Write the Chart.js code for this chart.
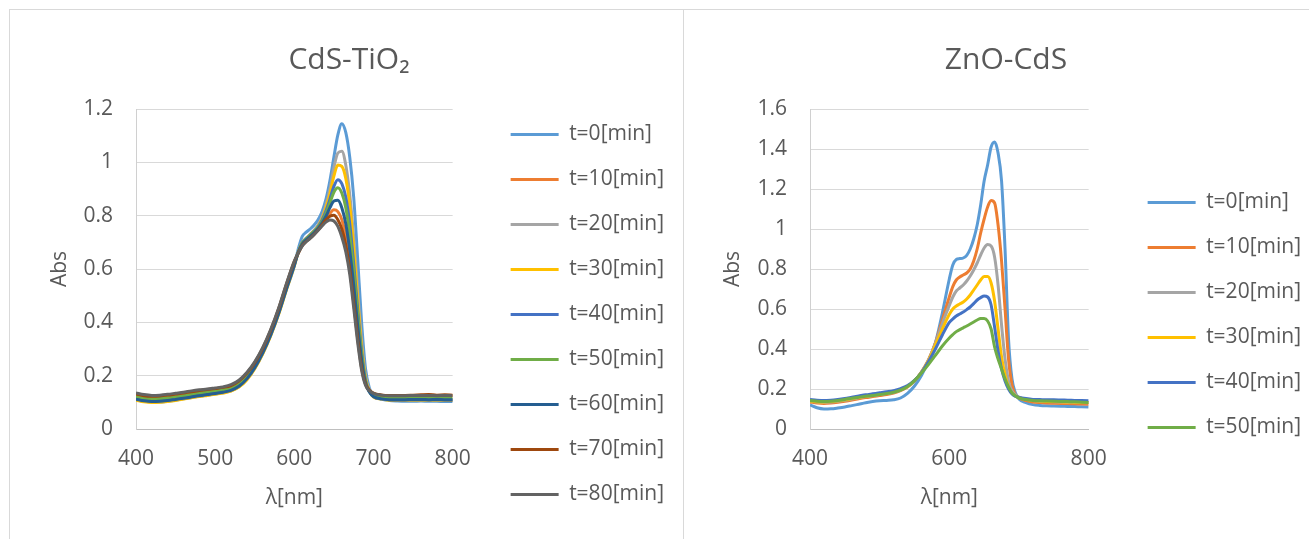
<!DOCTYPE html>
<html>
<head>
<meta charset="utf-8">
<script src="https://cdn.jsdelivr.net/npm/chart.js@4.4.0/dist/chart.umd.min.js"></script>
<style>
  html, body { margin: 0; padding: 0; background: #ffffff; }
  body { width: 1309px; height: 539px; overflow: hidden; position: relative; }
  .frame { position: absolute; left: 9px; top: 9px; width: 1400px; height: 600px; border: 1px solid #d9d9d9; }
  .divider { position: absolute; left: 683px; top: 10px; width: 1px; height: 600px; background: #d9d9d9; }
  canvas { position: absolute; top: 11px; }
</style>
</head>
<body>
<div class="frame"></div>
<div class="divider"></div>
<canvas id="c1" width="672" height="528" style="left:11px"></canvas>
<canvas id="c2" width="640" height="528" style="left:684px"></canvas>
<script>
// ---------- data ----------
const wavelengths = [400,410,420,430,440,450,460,470,480,490,500,510,520,530,540,550,560,570,580,590,600,
  605,610,615,620,625,630,635,640,645,650,655,660,665,670,675,680,685,690,695,700,
  710,720,730,740,750,760,770,780,790,800];

// CdS-TiO2
const cdsLabels = ['t=0[min]','t=10[min]','t=20[min]','t=30[min]','t=40[min]','t=50[min]','t=60[min]','t=70[min]','t=80[min]'];
const cdsT0  = [0.110,0.104,0.101,0.101,0.104,0.108,0.113,0.118,0.123,0.127,0.131,0.136,0.143,0.158,0.186,0.228,0.283,0.350,0.430,0.523,0.612,
  0.675,0.722,0.738,0.750,0.765,0.785,0.815,0.862,0.932,1.020,1.103,1.145,1.112,1.020,0.870,0.640,0.400,0.225,0.152,0.125,
  0.112,0.107,0.105,0.104,0.104,0.105,0.104,0.104,0.103,0.103];
const cdsT10 = [0.128,0.122,0.120,0.121,0.124,0.128,0.132,0.137,0.141,0.145,0.149,0.153,0.160,0.176,0.205,0.245,0.298,0.365,0.445,0.538,0.625,
  0.660,0.690,0.705,0.718,0.732,0.748,0.765,0.785,0.808,0.822,0.815,0.785,0.722,0.630,0.500,0.360,0.240,0.170,0.142,0.132,
  0.126,0.124,0.125,0.124,0.125,0.126,0.127,0.125,0.126,0.125];
const cdsT20 = [0.118,0.112,0.109,0.110,0.113,0.117,0.121,0.126,0.131,0.135,0.139,0.144,0.151,0.166,0.194,0.236,0.290,0.357,0.437,0.530,0.618,
  0.665,0.700,0.716,0.730,0.745,0.765,0.795,0.840,0.900,0.980,1.035,1.042,0.990,0.880,0.720,0.520,0.330,0.200,0.145,0.122,
  0.114,0.111,0.110,0.110,0.111,0.111,0.110,0.111,0.110,0.110];
const cdsT30 = [0.108,0.102,0.099,0.100,0.103,0.107,0.112,0.117,0.122,0.126,0.130,0.135,0.142,0.157,0.184,0.226,0.281,0.348,0.428,0.521,0.611,
  0.663,0.698,0.714,0.728,0.742,0.760,0.788,0.830,0.882,0.948,0.990,0.985,0.940,0.840,0.680,0.490,0.310,0.190,0.142,0.120,
  0.112,0.108,0.107,0.107,0.108,0.108,0.107,0.108,0.107,0.107];
const cdsT40 = [0.114,0.108,0.105,0.106,0.109,0.113,0.117,0.122,0.127,0.131,0.135,0.140,0.147,0.162,0.190,0.232,0.287,0.354,0.434,0.527,0.615,
  0.663,0.697,0.713,0.727,0.741,0.758,0.783,0.818,0.862,0.910,0.935,0.920,0.870,0.770,0.620,0.450,0.290,0.182,0.140,0.122,
  0.113,0.110,0.109,0.109,0.110,0.110,0.109,0.110,0.109,0.109];
const cdsT50 = [0.122,0.116,0.113,0.114,0.117,0.121,0.125,0.130,0.135,0.139,0.143,0.148,0.155,0.170,0.198,0.240,0.293,0.360,0.440,0.533,0.620,
  0.663,0.697,0.712,0.726,0.740,0.756,0.778,0.808,0.848,0.888,0.905,0.885,0.830,0.730,0.590,0.430,0.280,0.178,0.140,0.125,
  0.118,0.116,0.116,0.116,0.117,0.117,0.116,0.117,0.116,0.116];
const cdsT60 = [0.112,0.106,0.103,0.104,0.107,0.111,0.115,0.120,0.125,0.129,0.133,0.138,0.145,0.160,0.188,0.230,0.285,0.352,0.432,0.525,0.614,
  0.662,0.694,0.709,0.722,0.736,0.752,0.772,0.798,0.830,0.855,0.858,0.830,0.770,0.670,0.540,0.390,0.260,0.172,0.138,0.122,
  0.113,0.110,0.110,0.110,0.111,0.111,0.110,0.111,0.110,0.110];
const cdsT70 = [0.131,0.125,0.123,0.124,0.127,0.131,0.135,0.140,0.144,0.148,0.152,0.156,0.163,0.180,0.209,0.249,0.302,0.369,0.449,0.542,0.628,
  0.660,0.688,0.703,0.716,0.730,0.746,0.765,0.785,0.798,0.802,0.785,0.750,0.690,0.600,0.475,0.340,0.230,0.168,0.145,0.135,
  0.128,0.126,0.126,0.126,0.127,0.128,0.129,0.127,0.128,0.127];
const cdsT80 = [0.135,0.129,0.126,0.127,0.130,0.134,0.138,0.143,0.147,0.150,0.154,0.158,0.166,0.183,0.212,0.252,0.305,0.372,0.452,0.545,0.630,
  0.660,0.686,0.702,0.715,0.729,0.744,0.761,0.776,0.784,0.780,0.760,0.720,0.665,0.580,0.455,0.325,0.220,0.163,0.143,0.134,
  0.127,0.125,0.125,0.125,0.126,0.126,0.126,0.125,0.126,0.125];

// ZnO-CdS
const znoLabels = ['t=0[min]','t=10[min]','t=20[min]','t=30[min]','t=40[min]','t=50[min]'];
const znoT0  = [0.120,0.106,0.100,0.101,0.105,0.110,0.117,0.124,0.131,0.137,0.141,0.143,0.146,0.155,0.178,0.215,0.268,0.340,0.430,0.580,0.750,
  0.820,0.848,0.852,0.855,0.868,0.900,0.950,1.020,1.120,1.240,1.320,1.410,1.435,1.380,1.240,0.900,0.450,0.250,0.180,0.150,
  0.132,0.122,0.118,0.116,0.115,0.114,0.113,0.112,0.111,0.110];
const znoT10 = [0.135,0.130,0.128,0.130,0.134,0.139,0.145,0.151,0.157,0.162,0.167,0.172,0.180,0.192,0.210,0.240,0.285,0.345,0.430,0.545,0.660,
  0.712,0.745,0.760,0.770,0.780,0.800,0.840,0.900,0.980,1.050,1.110,1.142,1.130,1.020,0.840,0.600,0.350,0.220,0.170,0.155,
  0.142,0.135,0.132,0.130,0.129,0.128,0.127,0.126,0.125,0.124];
const znoT20 = [0.140,0.135,0.133,0.135,0.139,0.144,0.150,0.156,0.162,0.167,0.172,0.177,0.184,0.195,0.212,0.241,0.285,0.343,0.428,0.528,0.618,
  0.660,0.690,0.705,0.720,0.740,0.765,0.795,0.830,0.870,0.905,0.922,0.915,0.860,0.720,0.520,0.350,0.240,0.190,0.170,0.160,
  0.148,0.142,0.139,0.137,0.136,0.135,0.134,0.133,0.132,0.131];
const znoT30 = [0.140,0.136,0.135,0.137,0.141,0.146,0.152,0.158,0.164,0.169,0.174,0.179,0.186,0.197,0.213,0.241,0.283,0.340,0.420,0.500,0.573,
  0.600,0.615,0.625,0.635,0.650,0.670,0.695,0.720,0.745,0.762,0.762,0.730,0.640,0.500,0.360,0.270,0.210,0.180,0.165,0.157,
  0.148,0.143,0.140,0.138,0.137,0.136,0.135,0.134,0.133,0.132];
const znoT40 = [0.148,0.144,0.142,0.144,0.148,0.153,0.159,0.165,0.171,0.176,0.181,0.186,0.192,0.202,0.217,0.243,0.282,0.336,0.400,0.470,0.533,
  0.550,0.565,0.575,0.585,0.597,0.610,0.627,0.645,0.657,0.665,0.660,0.620,0.510,0.390,0.300,0.240,0.200,0.175,0.163,0.158,
  0.152,0.148,0.147,0.146,0.146,0.145,0.144,0.143,0.142,0.141];
const znoT50 = [0.143,0.139,0.137,0.139,0.143,0.148,0.154,0.159,0.164,0.168,0.172,0.177,0.184,0.194,0.212,0.242,0.280,0.322,0.368,0.415,0.455,
  0.472,0.487,0.497,0.506,0.515,0.525,0.535,0.545,0.552,0.552,0.540,0.500,0.410,0.350,0.300,0.250,0.210,0.180,0.165,0.155,
  0.147,0.143,0.141,0.140,0.139,0.138,0.137,0.136,0.134,0.132];

const seriesColors = ['#5b9bd5','#ed7d31','#a5a5a5','#ffc000','#4472c4','#70ad47','#255e91','#9e480e','#636363'];
const cdsYTicks = {min: 0, max: 1.2, step: 0.2};
const znoYTicks = {min: 0, max: 1.6, step: 0.2};
const cdsXTicks = {min: 400, max: 800, step: 100};
const znoXTicks = {min: 400, max: 800, step: 200};

// ---------- rendering ----------
const FONT = "'Open Sans', 'Liberation Sans', sans-serif";
const TEXT = '#595959';
const LEG_FONT = 21, LEG_BOX = 48, LEG_PAD = 24;
Chart.defaults.font.family = FONT;
Chart.defaults.color = TEXT;

function legendNaturalWidth(labels) {
  const ctx = document.createElement('canvas').getContext('2d');
  ctx.font = 'normal ' + LEG_FONT + 'px ' + FONT;
  const w = Math.max(...labels.map(t => ctx.measureText(t).width));
  return LEG_PAD + LEG_BOX + LEG_FONT / 2 + w + 10;
}

function buildDatasets(labels, seriesList) {
  return seriesList.map((vals, i) => ({
    label: labels[i],
    data: wavelengths.map((w, k) => ({x: w, y: vals[k]})),
    borderColor: seriesColors[i],
    backgroundColor: seriesColors[i],
    borderWidth: 3,
    pointRadius: 0,
    pointHoverRadius: 0,
    cubicInterpolationMode: 'monotone',
    yAxisID: 'y',
    order: -i
  }));
}

// geo: canvas width W, wanted legend-left Lx, plot left PL, plot right PR, title centre TC, y-title centre YT
function makeChart(id, opt, geo) {
  const LW = Math.ceil(legendNaturalWidth(opt.labels));
  const padR = geo.W - geo.Lx - LW;
  const padL = 2 * geo.TC - geo.W + padR;
  const yWidth = geo.PL - padL;
  const gapWidth = geo.Lx - geo.PR;
  const yTitlePad = geo.YT - padL - LEG_FONT / 2;
  return new Chart(document.getElementById(id), {
    type: 'line',
    data: { datasets: buildDatasets(opt.labels, opt.series) },
    options: {
      responsive: false,
      animation: false,
      devicePixelRatio: 1,
      layout: { padding: { left: padL, right: padR, top: 0, bottom: 0 } },
      plugins: {
        tooltip: { enabled: false },
        title: {
          display: true, text: opt.title, color: TEXT,
          font: { size: 30, weight: 'normal', family: FONT, lineHeight: 1.2 },
          padding: { top: 31, bottom: 31 }
        },
        legend: {
          position: 'right', align: 'start', maxWidth: LW + 4,
          title: { display: true, text: '', font: { size: 10, lineHeight: 1 }, padding: { top: opt.legendTop, bottom: 0 } },
          labels: {
            boxWidth: LEG_BOX, boxHeight: 0, padding: LEG_PAD, color: TEXT,
            font: { size: LEG_FONT, family: FONT },
            sort: (a, b) => a.datasetIndex - b.datasetIndex
          }
        }
      },
      scales: {
        x: {
          type: 'linear', position: 'bottom',
          min: opt.xTicks.min, max: opt.xTicks.max,
          ticks: { stepSize: opt.xTicks.step, maxRotation: 0, padding: 17, color: TEXT, font: { size: 21 } },
          grid: { display: false, drawTicks: false },
          border: { display: true, color: '#bfbfbf', width: 1 },
          title: { display: true, text: 'λ[nm]', color: TEXT, font: { size: 21, lineHeight: 1 }, padding: { top: 0, bottom: 30 } },
          afterFit: s => { s.height = 110; }
        },
        y: {
          type: 'linear', position: 'left',
          min: opt.yTicks.min, max: opt.yTicks.max,
          ticks: { stepSize: opt.yTicks.step, padding: 23, color: TEXT, font: { size: 21 },
                   callback: v => String(Number(v.toFixed(2))) },
          grid: { color: '#d9d9d9', lineWidth: 1, drawTicks: false },
          border: { display: true, color: '#d0d0d0', width: 1 },
          title: { display: true, text: 'Abs', color: TEXT, font: { size: 21, lineHeight: 1 }, padding: { top: yTitlePad, bottom: 0 } },
          afterFit: s => { s.width = yWidth; }
        },
        gap: {
          type: 'linear', position: 'right', display: true,
          grid: { display: false, drawTicks: false },
          border: { display: false },
          ticks: { display: false },
          afterFit: s => { s.width = gapWidth; }
        }
      }
    }
  });
}

makeChart('c1', {
  title: 'CdS-TiO₂', labels: cdsLabels,
  series: [cdsT0, cdsT10, cdsT20, cdsT30, cdsT40, cdsT50, cdsT60, cdsT70, cdsT80],
  yTicks: cdsYTicks, xTicks: cdsXTicks, legendTop: 79
}, { W: 672, Lx: 475, PL: 125, PR: 441, TC: 338, YT: 49 });

makeChart('c2', {
  title: 'ZnO-CdS', labels: znoLabels,
  series: [znoT0, znoT10, znoT20, znoT30, znoT40, znoT50],
  yTicks: znoYTicks, xTicks: znoXTicks, legendTop: 147
}, { W: 640, Lx: 439, PL: 126, PR: 404, TC: 322, YT: 49 });
</script>
</body>
</html>
